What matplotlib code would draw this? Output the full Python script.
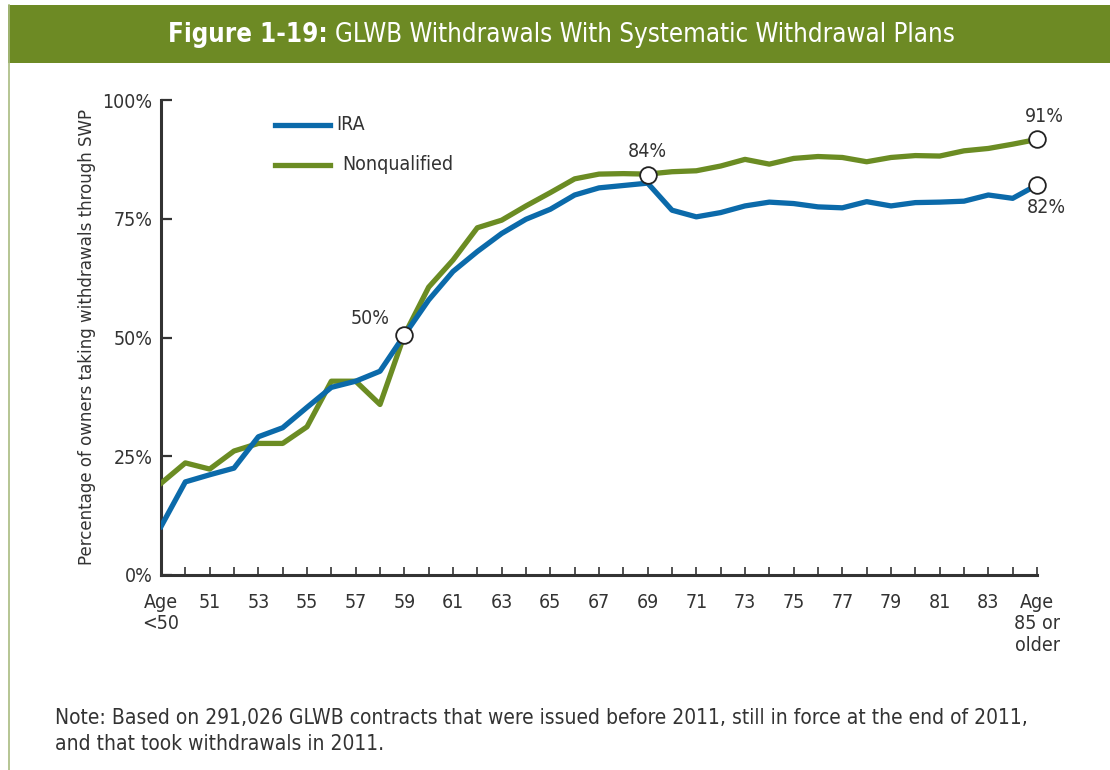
import matplotlib
matplotlib.use("Agg")
import matplotlib.pyplot as plt
from matplotlib.lines import Line2D
from matplotlib.patches import Rectangle

plt.rcParams['font.family'] = ['DejaVu Sans']
plt.rcParams['font.stretch'] = 'condensed'

# ---------------- data ----------------
x_labels = ["Age\n<50", "51", "53", "55", "57", "59", "61", "63", "65", "67", "69",
            "71", "73", "75", "77", "79", "81", "83", "Age\n85 or\nolder"]
ira = [10.2, 19.6, 21.1, 22.5, 29.1, 31.0, 35.3, 39.5, 40.8, 42.9, 50.5, 57.9,
       63.9, 68.1, 71.9, 74.9, 77.0, 80.0, 81.5, 82.0, 82.5, 76.8, 75.4, 76.3,
       77.7, 78.5, 78.2, 77.5, 77.3, 78.6, 77.7, 78.4, 78.5, 78.7, 80.0, 79.3, 82.1]
nonqual = [19.3, 23.6, 22.3, 26.1, 27.7, 27.7, 31.2, 40.8, 40.8, 35.9, 50.5, 60.6,
           66.3, 73.1, 74.7, 77.7, 80.5, 83.4, 84.4, 84.5, 84.4, 84.9, 85.1, 86.1,
           87.5, 86.5, 87.7, 88.1, 87.9, 87.0, 87.9, 88.3, 88.2, 89.3, 89.8, 90.7, 91.7]
y_ticks = [0, 25, 50, 75, 100]
y_tick_labels = ["0%", "25%", "50%", "75%", "100%"]
callout_x = [10, 20, 36, 36]
callout_y = [50.5, 84.3, 91.7, 82.1]

BLUE = "#0b6aaa"
GREEN = "#6b8c23"
HEAD = "#6d8a24"
TXT = "#333333"

W, H = 1110, 770
fig = plt.figure(figsize=(W / 100, H / 100), dpi=100)

def fx(px):
    return px / W

def fy(py):
    return 1 - py / H

# frame line and header band
fig.add_artist(Line2D([fx(9), fx(9)], [fy(5), fy(770)], transform=fig.transFigure,
                      color="#a9bb80", lw=1.2))
fig.patches.append(Rectangle((fx(8), fy(63)), fx(1102), fy(5) - fy(63),
                             transform=fig.transFigure, facecolor=HEAD, edgecolor="none"))

# title (bold + regular parts)
t1 = fig.text(0.5, fy(35), "Figure 1-19: ", color="white", fontsize=18.5, fontweight="bold",
              va="center", ha="left")
t2 = fig.text(0.5, fy(35), "GLWB Withdrawals With Systematic Withdrawal Plans", color="white",
              fontsize=18.5, va="center", ha="left")
fig.canvas.draw()
r = fig.canvas.get_renderer()
w1 = t1.get_window_extent(r).width
w2 = t2.get_window_extent(r).width
start = (168 + 955) / 2 - (w1 + w2) / 2
t1.set_x(fx(start))
t2.set_x(fx(start + w1))

ax = fig.add_axes([fx(161), fy(575), fx(1037) - fx(161), fy(100) - fy(575)])
x = list(range(len(ira)))
ax.plot(x, nonqual, color=GREEN, lw=3.8, zorder=3)
ax.plot(x, ira, color=BLUE, lw=3.8, zorder=4)

ax.plot(callout_x, callout_y, ls="none", marker="o", ms=12, mfc="white", mec="#222222",
        mew=1.3, zorder=6, clip_on=False)
ax.text(10 - 0.6, 50.5 + 1.5, "50%", ha="right", va="bottom", fontsize=14, color=TXT)
ax.text(20, 84.3 + 2.8, "84%", ha="center", va="bottom", fontsize=14, color=TXT)
ax.text(36.3, 91.7 + 2.8, "91%", ha="center", va="bottom", fontsize=14, color=TXT)
ax.text(36.4, 82.1 - 2.8, "82%", ha="center", va="top", fontsize=14, color=TXT)

ax.set_xlim(0, 36)
ax.set_ylim(0, 100)
ax.set_xticks(x)
ax.set_xticklabels([""] * len(x))
for i, lab in enumerate(x_labels):
    ax.text(2 * i, -3.8, lab, ha="center", va="top", fontsize=14, color=TXT,
            linespacing=1.15)
ax.set_yticks(y_ticks)
ax.set_yticklabels(y_tick_labels, fontsize=14, color=TXT)
ax.tick_params(axis="x", direction="in", length=6, width=1.2, color=TXT)
ax.tick_params(axis="y", direction="in", length=8, width=1.6, color=TXT, pad=6)
for s in ["top", "right"]:
    ax.spines[s].set_visible(False)
for s in ["left", "bottom"]:
    ax.spines[s].set_color(TXT)
    ax.spines[s].set_linewidth(2.2)
ax.set_ylabel("Percentage of owners taking withdrawals through SWP", fontsize=13.3, color=TXT)
ax.yaxis.set_label_coords((96 - 161) / (1037 - 161), (575 - 337) / (575 - 100))

# legend
fig.add_artist(Line2D([fx(275), fx(330)], [fy(125), fy(125)], transform=fig.transFigure,
                      color=BLUE, lw=3.8))
fig.text(fx(336), fy(125), "IRA", fontsize=14, color=TXT, va="center")
fig.add_artist(Line2D([fx(275), fx(330)], [fy(165), fy(165)], transform=fig.transFigure,
                      color=GREEN, lw=3.8))
fig.text(fx(342), fy(165), "Nonqualified", fontsize=14, color=TXT, va="center")

fig.text(fx(55), fy(731), "Note: Based on 291,026 GLWB contracts that were issued before 2011, "
         "still in force at the end of 2011,\nand that took withdrawals in 2011.",
         fontsize=15, color=TXT, va="center", linespacing=1.32)

fig.savefig("out.png", dpi=100)
